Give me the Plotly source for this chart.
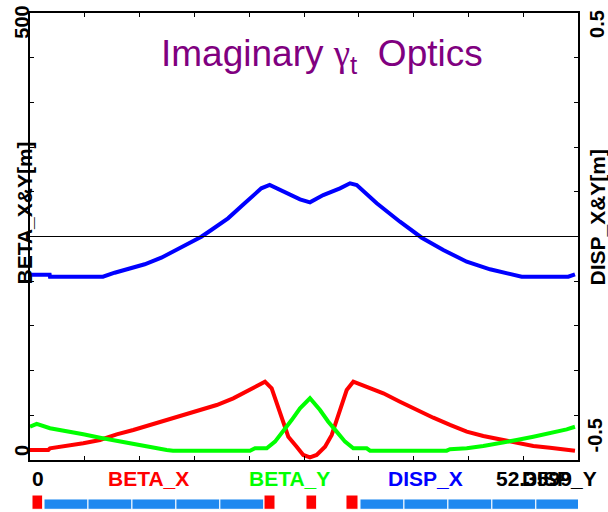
import plotly.graph_objects as go

S_END = 52.3599  # machine length [m]

# BETA_X along s
s_bx = [0.00, 1.75, 1.91, 3.51, 5.09, 6.69, 8.28, 9.87, 11.47, 13.06, 14.65, 16.24,
        17.84, 19.42, 21.02, 22.45, 23.09, 23.72, 24.20, 24.68, 25.48, 26.11, 26.75,
        27.39, 28.19, 28.83, 29.30, 29.78, 30.26, 30.89, 32.17, 33.76, 35.35, 36.95,
        38.53, 40.13, 41.73, 43.31, 44.91, 46.50, 48.09, 49.68, 51.28, 52.07]
beta_x = [11.2, 11.2, 13.1, 15.7, 18.7, 22.4, 28.7, 33.6, 39.2, 44.7, 50.3, 55.1,
          61.5, 69.0, 78.3, 87.6, 80.2, 59.6, 41.1, 26.1, 14.9, 5.6, 3.0,
          5.6, 14.9, 28.0, 44.7, 63.4, 78.3, 87.6, 82.0, 74.6, 65.2, 55.9,
          47.3, 39.2, 31.7, 26.8, 23.2, 18.7, 15.7, 13.8, 12.0, 10.4]

# BETA_Y along s
s_by = [0.00, 0.64, 1.91, 3.51, 5.09, 6.69, 8.28, 9.87, 11.47, 13.06, 13.66, 21.02,
        21.50, 22.62, 23.41, 24.20, 25.00, 25.80, 26.75, 27.71, 28.50, 29.30, 30.10,
        30.89, 32.17, 32.49, 39.81, 40.13, 41.73, 43.31, 44.91, 46.50, 48.09, 49.68,
        51.28, 52.07]
beta_y = [37.2, 40.3, 35.5, 32.4, 28.7, 24.9, 21.3, 17.6, 14.2, 11.2, 10.4, 10.4,
          13.1, 13.1, 20.5, 31.7, 44.7, 57.8, 69.0, 55.9, 42.8, 31.7, 20.5,
          13.1, 13.1, 10.4, 10.4, 12.0, 13.1, 15.7, 18.7, 22.4, 26.1, 29.9,
          34.3, 37.2]

# DISP_X along s
s_dx = [0.00, 1.88, 1.91, 6.97, 8.09, 9.36, 10.96, 12.55, 14.14, 15.74, 16.37, 17.32,
        18.92, 20.51, 22.10, 22.90, 24.65, 25.80, 26.75, 28.02, 29.62, 30.58, 31.22,
        33.13, 35.35, 37.43, 39.49, 41.73, 43.95, 46.18, 46.98, 51.43, 52.07]
disp_x = [-0.0855, -0.0855, -0.0899, -0.0899, -0.0810, -0.0734, -0.0622, -0.0474,
          -0.0280, -0.0063, -0.0004, 0.0145, 0.0407, 0.0743, 0.1078, 0.1152, 0.0966,
          0.0832, 0.0765, 0.0928, 0.1078, 0.1190, 0.1152, 0.0743, 0.0331, -0.0027,
          -0.0302, -0.0564, -0.0734, -0.0861, -0.0899, -0.0899, -0.0846]

# DISP_Y along s
s_dy = [0.0, S_END]
disp_y = [0.0, 0.0]

# lattice elements: quadrupoles and dipoles (start, length) [m]
quad_start = [0.19, 22.36, 26.37, 30.19]
quad_len = [1.02, 1.05, 1.02, 1.15]
dip_start = [1.34, 5.54, 9.74, 13.94, 18.14, 31.53, 35.73, 39.93, 44.13, 48.33]
dip_len = [4.20] * 10

title_text = ("Imaginary <span style=\"font-family:'Liberation Serif', serif\">\u03b3</span>"
              "<sub>t</sub>\u00a0\u00a0Optics")
left_label = "BETA_X&Y[m]"
right_label = "DISP_X&Y[m]"
left_ticks = ["0", "500"]
right_ticks = ["-0.5", "0.5"]
legend_names = ["BETA_X", "BETA_Y", "DISP_X", "DISP_Y"]

RED, GREEN, BLUE = "#ff0000", "#00ff00", "#0000ff"
LAT_BLUE = "#1e88f0"
FONT = "Liberation Sans, Arial, sans-serif"

fig = go.Figure()
fig.add_trace(go.Scatter(x=s_bx, y=beta_x, mode="lines", name=legend_names[0],
                         line=dict(color=RED, width=4)))
fig.add_trace(go.Scatter(x=s_by, y=beta_y, mode="lines", name=legend_names[1],
                         line=dict(color=GREEN, width=4)))
fig.add_trace(go.Scatter(x=s_dx, y=disp_x, mode="lines", name=legend_names[2],
                         line=dict(color=BLUE, width=4), yaxis="y2"))
fig.add_trace(go.Scatter(x=s_dy, y=disp_y, mode="lines", name=legend_names[3],
                         line=dict(color="black", width=1), yaxis="y2"))

# lattice strip under the plot
shapes = []
for st, ln in zip(dip_start, dip_len):
    shapes.append(dict(type="rect", xref="x", yref="paper", x0=st, x1=st + ln,
                       y0=-0.1103, y1=-0.0872, fillcolor=LAT_BLUE,
                       line=dict(color="white", width=1)))
for st, ln in zip(quad_start, quad_len):
    shapes.append(dict(type="rect", xref="x", yref="paper", x0=st, x1=st + ln,
                       y0=-0.1103, y1=-0.0783, fillcolor=RED,
                       line=dict(color="white", width=1)))

bold = dict(family=FONT, size=20, color="black", weight="bold")
row = dict(bold, size=21)
annotations = [
    dict(text=title_text, xref="paper", yref="paper", x=0.5323, y=0.9038,
         xanchor="center", yanchor="middle", showarrow=False,
         font=dict(family="Liberation Sans Narrow, Arial Narrow, Liberation Sans, sans-serif",
                   size=37, color="#800080")),
    dict(text=left_label, xref="paper", yref="paper", x=-0.0109, y=0.5515,
         textangle=-90, showarrow=False, xanchor="center", yanchor="middle",
         font=dict(bold, size=21)),
    dict(text=right_label, xref="paper", yref="paper", x=1.0356, y=0.5436,
         textangle=-90, showarrow=False, xanchor="center", yanchor="middle",
         font=dict(bold, size=21)),
    dict(text=left_ticks[1], xref="paper", yref="paper", x=-0.0146, y=0.9805,
         textangle=-90, showarrow=False, xanchor="center", yanchor="middle", font=bold),
    dict(text=left_ticks[0], xref="paper", yref="paper", x=-0.0146, y=0.0224,
         textangle=-90, showarrow=False, xanchor="center", yanchor="middle", font=bold),
    dict(text=right_ticks[1], xref="paper", yref="paper", x=1.0356, y=0.9743,
         textangle=-90, showarrow=False, xanchor="center", yanchor="middle", font=bold),
    dict(text=right_ticks[0], xref="paper", yref="paper", x=1.0310, y=0.0548,
         textangle=-90, showarrow=False, xanchor="center", yanchor="middle", font=bold),
    # bottom legend row
    dict(text="0", xref="x", yref="paper", x=0, y=-0.0414, xanchor="left",
         yanchor="middle", showarrow=False, font=row),
    dict(text=legend_names[0], xref="paper", yref="paper", x=0.1387, y=-0.0414,
         xanchor="left", yanchor="middle", showarrow=False, font=dict(row, color=RED)),
    dict(text=legend_names[1], xref="paper", yref="paper", x=0.3960, y=-0.0414,
         xanchor="left", yanchor="middle", showarrow=False, font=dict(row, color=GREEN)),
    dict(text=legend_names[2], xref="paper", yref="paper", x=0.6497, y=-0.0414,
         xanchor="left", yanchor="middle", showarrow=False, font=dict(row, color=BLUE)),
    dict(text=f"{S_END:g}", xref="paper", yref="paper", x=0.8467, y=-0.0414,
         xanchor="left", yanchor="middle", showarrow=False, font=row),
    dict(text=legend_names[3], xref="paper", yref="paper", x=1.0383, y=-0.0414,
         xanchor="right", yanchor="middle", showarrow=False, font=row),
]

axis_common = dict(showgrid=False, zeroline=False, showline=True, linecolor="black",
                   linewidth=1.5, ticks="inside", ticklen=4, tickwidth=1,
                   tickcolor="black", showticklabels=False)

fig.update_layout(
    width=608, height=512,
    margin=dict(l=30, r=30, t=13, b=52),
    paper_bgcolor="white", plot_bgcolor="white",
    showlegend=False,
    xaxis=dict(axis_common, range=[0, S_END], mirror="ticks",
               tickvals=[S_END * i / 10 for i in range(11)]),
    yaxis=dict(axis_common, range=[0, 500], tick0=0, dtick=50),
    yaxis2=dict(axis_common, range=[-0.5, 0.5], tick0=-0.5, dtick=0.1,
                overlaying="y", side="right"),
    shapes=shapes,
    annotations=annotations,
)

fig.write_html("out.html")
